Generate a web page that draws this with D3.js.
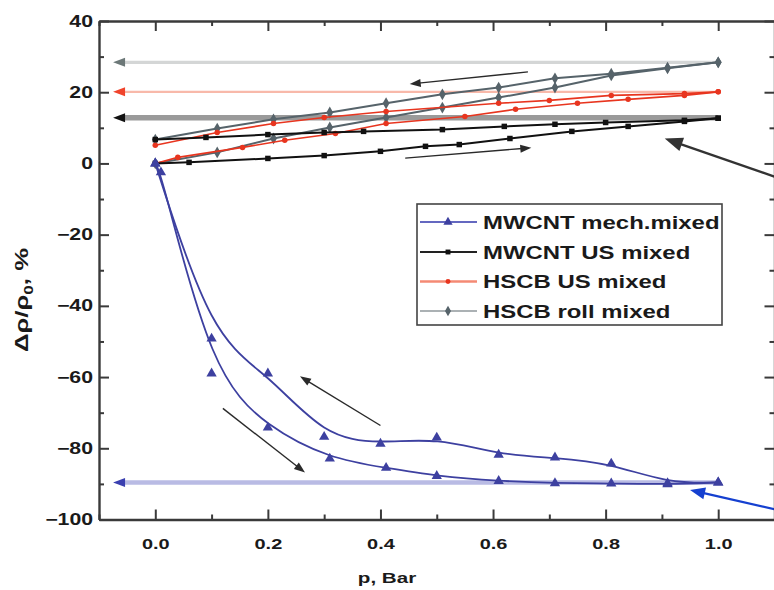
<!DOCTYPE html>
<html>
<head>
<meta charset="utf-8">
<script src="https://cdn.jsdelivr.net/npm/d3@7"></script>
<style>
  body { margin: 0; background: #fff; }
  svg { display: block; }
  text { font-family: "Liberation Sans", Arial, Helvetica, sans-serif; font-weight: bold; fill: #1a1a1a; }
</style>
</head>
<body>
<svg id="chart" width="774" height="590"></svg>
<script>
// ---- Relative resistance change vs. pressure (loading / unloading loops) ----

// MWCNT mech.mixed
const mechLoadP   = [0, 0.01, 0.10, 0.20, 0.31, 0.41, 0.50, 0.61, 0.71, 0.81, 0.91, 1.00];
const mechLoadR   = [0, -2.5, -59.0, -74.2, -82.9, -85.5, -87.8, -89.2, -89.8, -89.9, -90.1, -89.6];
const mechUnloadP = [1.00, 0.91, 0.81, 0.71, 0.61, 0.50, 0.40, 0.30, 0.20, 0.10, 0];
const mechUnloadR = [-89.6, -89.8, -84.3, -82.6, -81.8, -77.0, -78.7, -76.8, -59.0, -49.2, 0];

// MWCNT US mixed
const usLoadP     = [0, 0.06, 0.20, 0.30, 0.40, 0.48, 0.54, 0.63, 0.74, 0.84, 0.94, 1.00];
const usLoadR     = [0, 0.3, 1.4, 2.2, 3.4, 4.8, 5.3, 7.0, 9.0, 10.4, 11.8, 12.7];
const usUnloadP   = [1.00, 0.94, 0.80, 0.71, 0.62, 0.51, 0.37, 0.30, 0.20, 0.09, 0];
const usUnloadR   = [12.7, 12.1, 11.5, 11.0, 10.4, 9.5, 9.0, 8.7, 8.1, 7.3, 6.7];

// HSCB US mixed
const hscbUsLoadP   = [0, 0.04, 0.155, 0.23, 0.32, 0.41, 0.55, 0.64, 0.75, 0.84, 0.94, 1.00];
const hscbUsLoadR   = [0, 1.7, 4.5, 6.5, 8.4, 11.2, 13.2, 15.2, 16.9, 18.0, 19.1, 20.1];
const hscbUsUnloadP = [1.00, 0.94, 0.81, 0.70, 0.61, 0.41, 0.30, 0.21, 0.11, 0];
const hscbUsUnloadR = [20.1, 19.6, 19.1, 17.7, 16.9, 14.6, 12.9, 11.2, 8.7, 5.1];

// HSCB roll mixed
const rollLoadP   = [0, 0.11, 0.21, 0.31, 0.41, 0.51, 0.61, 0.71, 0.81, 0.91, 1.00];
const rollLoadR   = [0, 3.1, 7.0, 10.1, 12.9, 15.7, 18.5, 21.3, 24.7, 26.7, 28.4];
const rollUnloadP = [1.00, 0.91, 0.81, 0.71, 0.61, 0.51, 0.41, 0.31, 0.21, 0.11, 0];
const rollUnloadR = [28.4, 26.9, 25.2, 23.9, 21.3, 19.4, 16.9, 14.3, 12.4, 9.8, 6.7];

// level held after the load is released (drawn back toward p = 0)
const releaseR   = [-89.6, 12.8, 20.1, 28.4];
const releaseEnd = -0.075;

const seriesNames = ["MWCNT mech.mixed", "MWCNT US mixed", "HSCB US mixed", "HSCB roll mixed"];

const xTicks      = [0, 0.2, 0.4, 0.6, 0.8, 1.0];
const xMinorTicks = [-0.1, 0.1, 0.3, 0.5, 0.7, 0.9, 1.1];
const yTicks      = [-100, -80, -60, -40, -20, 0, 20, 40];
const yMinorTicks = [-90, -70, -50, -30, -10, 10, 30];

// ---- styles ----
const styles = [
  { line: "#3d40a0", width: 1.8, marker: d3.symbolTriangle, size: 46, fill: "#3d40a0",
    release: "#b9bbe4", releaseW: 4.5, head: "#3a3fb0", legendLine: "#6468c0", legendW: 2.2 },
  { line: "#111111", width: 2.0, marker: d3.symbolSquare, size: 30, fill: "#111111",
    release: "#9a9a9a", releaseW: 5.5, head: "#111111", legendLine: "#222", legendW: 2.2 },
  { line: "#e8351f", width: 1.6, marker: d3.symbolCircle, size: 24, fill: "#e8351f",
    release: "#f8b9aa", releaseW: 2.2, head: "#f0442c", legendLine: "#f48a74", legendW: 2.4 },
  { line: "#56636a", width: 2.0, marker: d3.symbolDiamond, size: 40, fill: "#56636a",
    release: "#d4d6d6", releaseW: 3.2, head: "#6c7878", legendLine: "#58646a", legendW: 1.2 }
];

const zip = (a, b) => a.map((v, i) => [v, b[i]]);
const series = [
  { branches: [zip(mechLoadP, mechLoadR), zip(mechUnloadP, mechUnloadR)], curve: d3.curveBasis },
  { branches: [zip(usLoadP, usLoadR), zip(usUnloadP, usUnloadR)], curve: d3.curveLinear },
  { branches: [zip(hscbUsLoadP, hscbUsLoadR), zip(hscbUsUnloadP, hscbUsUnloadR)], curve: d3.curveLinear },
  { branches: [zip(rollLoadP, rollLoadR), zip(rollUnloadP, rollUnloadR)], curve: d3.curveLinear }
];

// ---- layout ----
const svg = d3.select("#chart");
const x = d3.scaleLinear().domain([-0.1, 1.1]).range([99, 774.5]);
const y = d3.scaleLinear().domain([-100, 40]).range([519.5, 21]);
const SX = 1.33; // horizontal text stretch

// ---- release lines with left arrowheads ----
const relG = svg.append("g");
[3, 2, 1, 0].forEach(i => {
  const st = styles[i];
  const yy = y(releaseR[i]);
  const tip = x(releaseEnd);
  relG.append("line")
    .attr("x1", x(1.0)).attr("x2", tip + 9)
    .attr("y1", yy).attr("y2", yy)
    .attr("stroke", st.release).attr("stroke-width", st.releaseW);
  relG.append("path")
    .attr("d", `M${tip},${yy}L${tip + 12},${yy - 4.5}L${tip + 12},${yy + 4.5}Z`)
    .attr("fill", st.head);
});

// ---- curves ----
const plotG = svg.append("g");
[3, 2, 1, 0].forEach(i => {
  const s = series[i], st = styles[i];
  const line = d3.line().x(d => x(d[0])).y(d => y(d[1])).curve(s.curve);
  s.branches.forEach(b => {
    plotG.append("path").attr("d", line(b))
      .attr("fill", "none").attr("stroke", st.line).attr("stroke-width", st.width)
      .attr("stroke-linejoin", "round");
  });
  const sym = d3.symbol().type(st.marker).size(st.size);
  s.branches.forEach(b => {
    plotG.selectAll(null).data(b).enter().append("path")
      .attr("d", sym)
      .attr("transform", d => `translate(${x(d[0])},${y(d[1])})`)
      .attr("fill", st.fill);
  });
});

// ---- annotation arrows ----
function arrow(p1, p2, color, w, hl, hw) {
  const x1 = x(p1[0]), y1 = y(p1[1]), x2 = x(p2[0]), y2 = y(p2[1]);
  const dx = x2 - x1, dy = y2 - y1, L = Math.hypot(dx, dy);
  const ux = dx / L, uy = dy / L;
  const bx = x2 - ux * hl, by = y2 - uy * hl;
  svg.append("line").attr("x1", x1).attr("y1", y1)
    .attr("x2", bx + ux * 2).attr("y2", by + uy * 2)
    .attr("stroke", color).attr("stroke-width", w);
  svg.append("path")
    .attr("d", `M${x2},${y2}L${bx - uy * hw / 2},${by + ux * hw / 2}L${bx + uy * hw / 2},${by - ux * hw / 2}Z`)
    .attr("fill", color);
}
arrow([0.662, 25.7], [0.452, 22.3], "#2a2a2a", 1.4, 11, 8);
arrow([0.444, 1.5], [0.668, 4.4], "#2a2a2a", 1.4, 11, 8);
arrow([0.40, -73.6], [0.257, -59.8], "#2a2a2a", 1.4, 11, 8);
arrow([0.12, -68.8], [0.266, -86.8], "#2a2a2a", 1.4, 11, 8);
arrow([1.105, -4.0], [0.905, 7.0], "#333333", 2.4, 18, 14);
arrow([1.105, -97.3], [0.95, -91.7], "#1540d0", 2.2, 15, 12);

// ---- axes ----
const axisColor = "#3a3a3a";
function styleAxis(g) {
  g.select(".domain").attr("stroke", axisColor).attr("stroke-width", 2.4);
  g.selectAll(".tick line").attr("stroke", axisColor).attr("stroke-width", 2);
}
function minorTicks(g) {
  g.select(".domain").remove();
  g.selectAll(".tick line").attr("stroke", axisColor).attr("stroke-width", 2);
}
const fmtX = d3.format(".1f");

const axBottom = svg.append("g").attr("transform", `translate(0,${y(-100)})`)
  .call(d3.axisBottom(x).tickValues(xTicks).tickSize(-10).tickSizeOuter(0).tickPadding(19).tickFormat(fmtX));
styleAxis(axBottom);
axBottom.selectAll(".tick text").attr("font-size", 15).attr("fill", "#1a1a1a")
  .attr("transform", `scale(${SX},1)`).attr("font-family", null);
svg.append("g").attr("transform", `translate(0,${y(-100)})`)
  .call(d3.axisBottom(x).tickValues(xMinorTicks).tickSize(-5).tickSizeOuter(0).tickFormat(""))
  .call(minorTicks);

const axTop = svg.append("g").attr("transform", `translate(0,${y(40)})`)
  .call(d3.axisTop(x).tickValues(xTicks).tickSize(-10).tickSizeOuter(0).tickFormat(""));
styleAxis(axTop);
svg.append("g").attr("transform", `translate(0,${y(40)})`)
  .call(d3.axisTop(x).tickValues(xMinorTicks).tickSize(-5).tickSizeOuter(0).tickFormat(""))
  .call(minorTicks);

const axLeft = svg.append("g").attr("transform", `translate(${x(-0.1)},0)`)
  .call(d3.axisLeft(y).tickValues(yTicks).tickSize(-10).tickSizeOuter(0).tickPadding(4.5).tickFormat(d3.format("d")));
styleAxis(axLeft);
axLeft.selectAll(".tick text").attr("font-size", 16).attr("fill", "#1a1a1a")
  .attr("transform", `scale(${SX},1)`).attr("font-family", null);
svg.append("g").attr("transform", `translate(${x(-0.1)},0)`)
  .call(d3.axisLeft(y).tickValues(yMinorTicks).tickSize(-5).tickSizeOuter(0).tickFormat(""))
  .call(minorTicks);

const axRight = svg.append("g").attr("transform", `translate(${x(1.1)},0)`)
  .call(d3.axisRight(y).tickValues(yTicks).tickSize(-10).tickSizeOuter(0).tickFormat(""));
styleAxis(axRight);
svg.append("g").attr("transform", `translate(${x(1.1)},0)`)
  .call(d3.axisRight(y).tickValues(yMinorTicks).tickSize(-5).tickSizeOuter(0).tickFormat(""))
  .call(minorTicks);

// ---- axis titles ----
svg.append("text")
  .attr("transform", `translate(387,583) scale(${SX},1)`)
  .attr("text-anchor", "middle").attr("font-size", 15.5)
  .text("p, Bar");

const yTitle = svg.append("text").attr("text-anchor", "middle").attr("font-size", 15);
yTitle.append("tspan").text("Δρ/ρ");
yTitle.append("tspan").attr("font-size", 10).attr("dy", 4).text("0");
yTitle.append("tspan").attr("dy", -4).text(", %");
const yLen = yTitle.node().getComputedTextLength();
yTitle.attr("transform", `translate(28,300) rotate(-90) scale(${104 / yLen},1.2)`);

// ---- legend ----
const lg = svg.append("g");
lg.append("rect").attr("x", 417).attr("y", 204).attr("width", 305).attr("height", 121)
  .attr("fill", "#fff").attr("stroke", "#444").attr("stroke-width", 1.6);
const rowY = [222, 252, 281.5, 311];
seriesNames.forEach((name, i) => {
  const st = styles[i];
  lg.append("line").attr("x1", 420).attr("x2", 477).attr("y1", rowY[i]).attr("y2", rowY[i])
    .attr("stroke", st.legendLine).attr("stroke-width", st.legendW);
  lg.append("path").attr("d", d3.symbol().type(st.marker).size(st.size * 0.8)())
    .attr("transform", `translate(448,${rowY[i]})`).attr("fill", st.fill);
  lg.append("text").attr("transform", `translate(483,${rowY[i] + 6.5}) scale(${SX},1)`)
    .attr("font-size", 18).text(name);
});
</script>
</body>
</html>
